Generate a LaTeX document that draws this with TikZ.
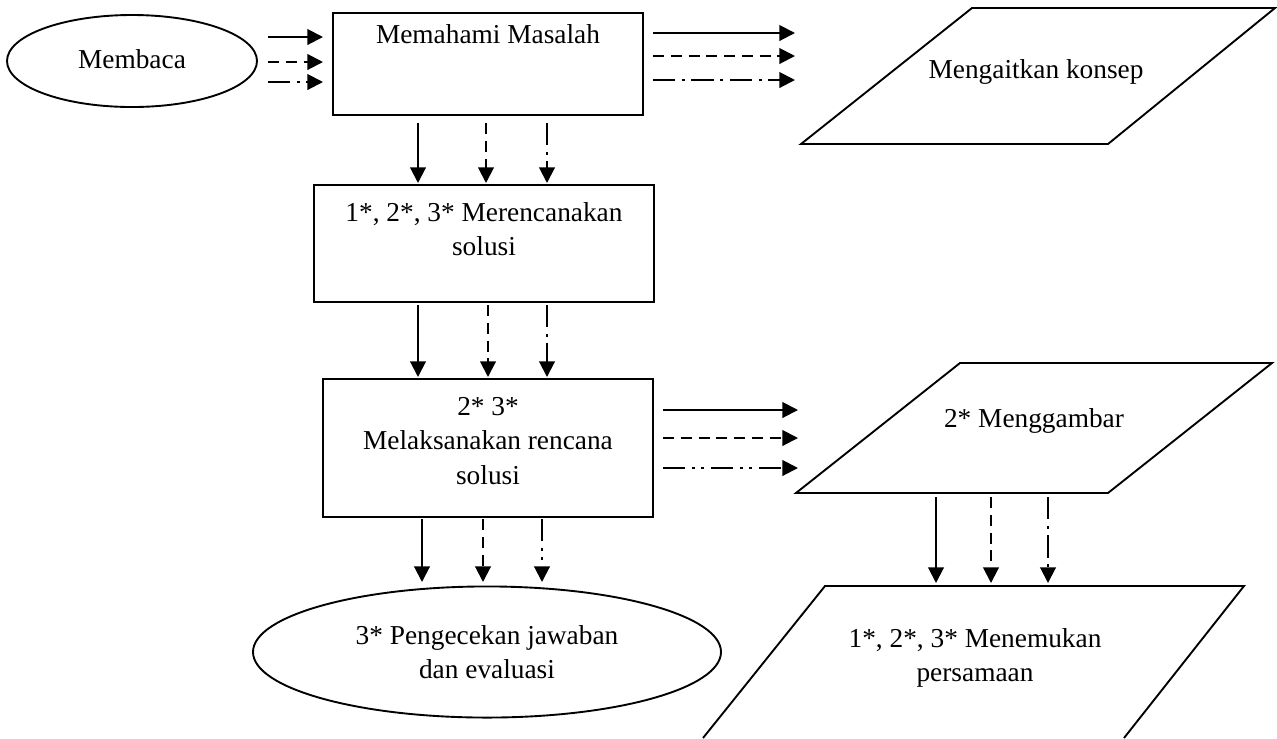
\documentclass[tikz,border=0pt]{standalone}
\usepackage{fontspec}
\setmainfont{Liberation Serif}
\usetikzlibrary{arrows.meta,shapes.geometric}
\begin{document}
\begin{tikzpicture}[x=0.45pt,y=-0.45pt,
  every node/.style={font=\fontsize{12.3pt}{15.5pt}\selectfont},
  box/.style={draw, line width=0.85pt, rectangle, inner sep=0pt},
  oval/.style={draw, line width=0.85pt, ellipse, inner sep=0pt},
  lbl/.style={align=center, inner sep=0pt},
  edge/.style={line width=0.85pt, line join=miter},
  arr/.style={line width=0.9pt, -{Triangle[length=7pt,width=7pt]}},
  dsh/.style={arr, dash pattern=on 5pt off 3pt},
  dd/.style={arr, dash pattern=on 10pt off 3pt on 1.3pt off 3pt},
  ddd/.style={arr, dash pattern=on 10pt off 3pt on 1.3pt off 3pt on 1.3pt off 3pt}]
\useasboundingbox (0,0) rectangle (1277,738);
\clip (0,0) rectangle (1277,738);

% nodes
\node[oval, minimum width=112.5pt, minimum height=41.4pt] (m1) at (132,61) {};
\node[lbl] (m1t) at (132,59) {Membaca};
\node[box, minimum width=139.5pt, minimum height=45.9pt] (r1) at (488,64) {};
\node[lbl] (r1t) at (488,34) {Memahami Masalah};
\node[box, minimum width=153pt, minimum height=52.65pt] (r2) at (484,243.5) {};
\node[lbl] (r2t) at (484,229) {1*, 2*, 3* Merencanakan\\solusi};
\node[box, minimum width=148.5pt, minimum height=62.1pt] (r3) at (488,448) {};
\node[lbl] (r3t) at (488,441) {2* 3*\\Melaksanakan rencana\\solusi};
\node[oval, minimum width=210.6pt, minimum height=59pt] (e2) at (487,652) {};
\node[lbl] (e2t) at (487,652) {3* Pengecekan jawaban\\dan evaluasi};

% parallelograms
\draw[edge] (801,144) coordinate (p1a) -- (1108,144) coordinate (p1b) -- (1275,8) coordinate (p1c) -- (972,8) coordinate (p1d) -- cycle;
\node[lbl] (p1t) at (1036,72) {Mengaitkan konsep};
\draw[edge] (796,493) coordinate (p2a) -- (1108,493) coordinate (p2b) -- (1272,363) coordinate (p2c) -- (960,363) coordinate (p2d) -- cycle;
\node[lbl] (p2t) at (1034,421) {2* Menggambar};
\draw[edge] (703,738) coordinate (p3a) -- (825,586) coordinate (p3b) -- (1244,586) coordinate (p3c) -- (1124,738) coordinate (p3d);
\node[lbl] (p3t) at (975,658) {1*, 2*, 3* Menemukan\\persamaan};

% horizontal arrows
\foreach \n/\sx/\ex/\y/\st in {
  A1/268/323/37/arr, A2/268/323/62/dsh, A3/268/323/82/dd,
  B1/653/795/33/arr, B2/653/795/56/dsh, B3/653/795/80/dd,
  E1/663/798/410/arr, E2/663/798/438/dsh, E3/663/798/468/ddd}{
  \coordinate (\n s) at (\sx,\y);
  \coordinate (\n e) at (\ex,\y);
  \draw[\st] (\n s) -- (\n e);
}
% vertical arrows
\foreach \n/\x/\sy/\ey/\st in {
  C1/418/123/183/arr, C2/486/123/183/dsh, C3/547/123/183/dd,
  D1/418/305/377/arr, D2/488/305/377/dsh, D3/547/305/377/dd,
  F1/422/519/582/arr, F2/483/519/582/dsh, F3/542/519/582/ddd,
  G1/936/497/583/arr, G2/991/497/583/dsh, G3/1048/497/583/dd}{
  \coordinate (\n s) at (\x,\sy);
  \coordinate (\n e) at (\x,\ey);
  \draw[\st] (\n s) -- (\n e);
}
\end{tikzpicture}
\end{document}
